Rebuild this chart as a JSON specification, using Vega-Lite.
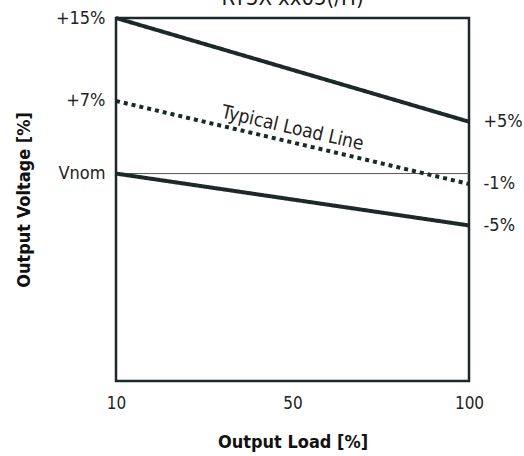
{
  "$schema": "https://vega.github.io/schema/vega-lite/v6.json",
  "autosize": "none",
  "width": 353,
  "height": 363,
  "padding": {"left": 116, "top": 18, "right": 55, "bottom": 75},
  "background": "white",
  "title": {
    "text": "RY3X-xx05(/H)",
    "font": "DejaVu Sans Condensed",
    "fontSize": 22,
    "fontWeight": "normal",
    "color": "#1b1b1b",
    "anchor": "middle",
    "baseline": "alphabetic",
    "frame": "group",
    "offset": 0,
    "dy": 18
  },
  "config": {
    "view": {"stroke": "#1b2a28", "strokeWidth": 2.5},
    "font": "DejaVu Sans Condensed",
    "axis": {
      "grid": false,
      "ticks": false,
      "domain": false,
      "labelFont": "DejaVu Sans Condensed",
      "titleFont": "DejaVu Sans Condensed",
      "labelColor": "#222222",
      "titleColor": "#111111",
      "labelFontSize": 18,
      "titleFontSize": 18,
      "titleFontWeight": "bold"
    }
  },
  "data": {
    "values": [
      {"series": "max", "load": "10", "v": 15},
      {"series": "max", "load": "100", "v": 5},
      {"series": "typ", "load": "10", "v": 7},
      {"series": "typ", "load": "100", "v": -1},
      {"series": "min", "load": "10", "v": 0},
      {"series": "min", "load": "100", "v": -5}
    ]
  },
  "resolve": {"axis": {"y": "independent"}},
  "layer": [
    {
      "data": {"values": [{"v": 0}]},
      "mark": {"type": "rule", "color": "#555555", "strokeWidth": 1},
      "encoding": {
        "y": {
          "field": "v",
          "type": "quantitative",
          "scale": {"domain": [-20, 15], "nice": false, "zero": false},
          "axis": {
            "orient": "left",
            "values": [15, 7, 0],
            "labelExpr": "datum.value == 15 ? '+15%' : datum.value == 7 ? '+7%' : 'Vnom'",
            "labelPadding": 11,
            "title": "Output Voltage [%]",
            "titlePadding": 22
          }
        }
      }
    },
    {
      "mark": {"type": "line", "color": "#1b2a28", "strokeWidth": 4},
      "encoding": {
        "x": {
          "field": "load",
          "type": "ordinal",
          "sort": ["10", "50", "100"],
          "scale": {"type": "point", "domain": ["10", "50", "100"], "padding": 0},
          "axis": {
            "labelAngle": 0,
            "labelPadding": 14,
            "labelFontSize": 17,
            "title": "Output Load [%]",
            "titlePadding": 22
          }
        },
        "y": {
          "field": "v",
          "type": "quantitative",
          "scale": {"domain": [-20, 15], "nice": false, "zero": false},
          "axis": {
            "orient": "right",
            "values": [5, -1, -5],
            "labelExpr": "datum.value > 0 ? '+' + datum.value + '%' : datum.value + '%'",
            "labelPadding": 14,
            "title": null
          }
        },
        "detail": {"field": "series"},
        "strokeDash": {
          "field": "series",
          "type": "nominal",
          "scale": {"domain": ["max", "typ", "min"], "range": [[1, 0], [4, 4], [1, 0]]},
          "legend": null
        }
      }
    },
    {
      "data": {"values": [{"label": "Typical Load Line", "load": "50", "v": 4.4}]},
      "mark": {"type": "text", "angle": 13, "fontSize": 19, "color": "#222222", "align": "center", "baseline": "middle"},
      "encoding": {
        "x": {"field": "load", "type": "ordinal", "scale": {"type": "point", "domain": ["10", "50", "100"], "padding": 0}},
        "y": {"field": "v", "type": "quantitative", "scale": {"domain": [-20, 15], "nice": false, "zero": false}, "axis": null},
        "text": {"field": "label"}
      }
    }
  ]
}
